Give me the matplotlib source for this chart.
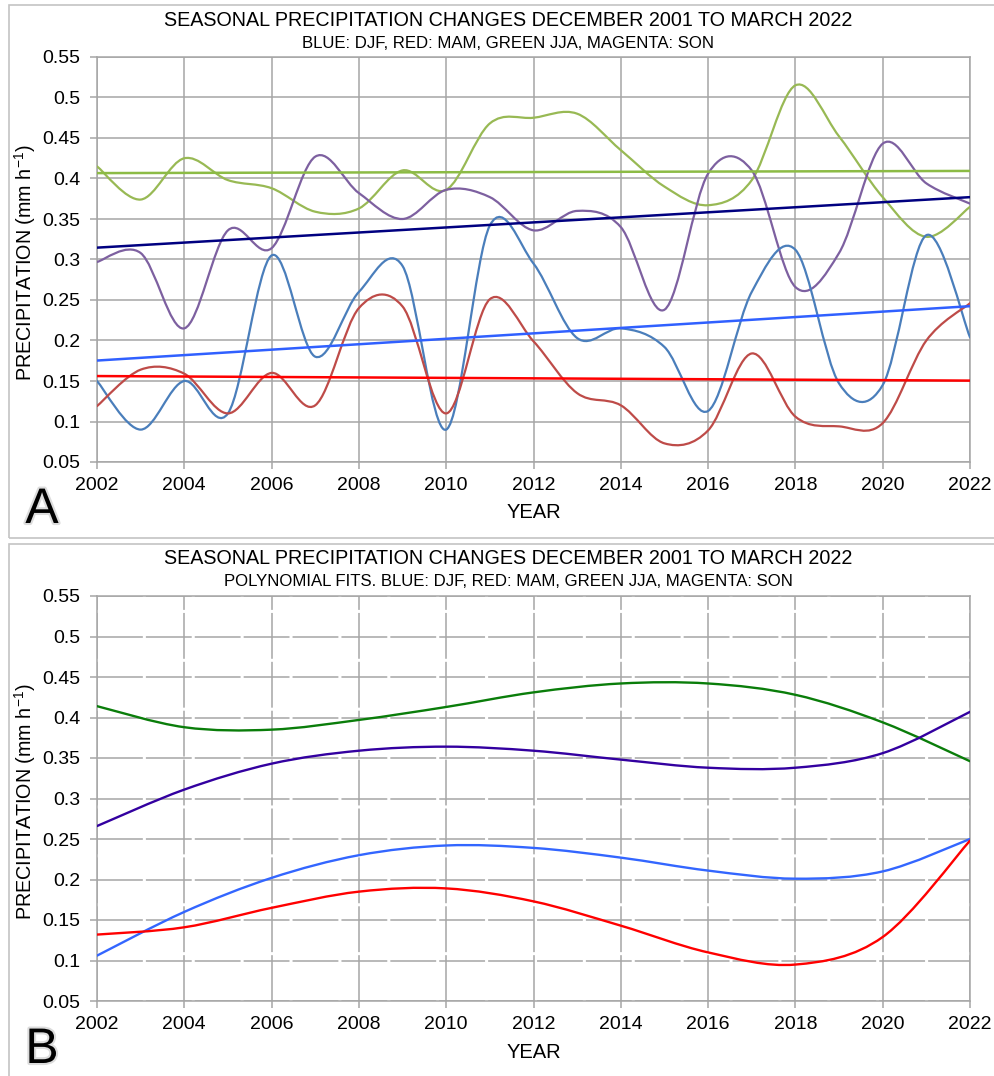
import matplotlib

matplotlib.use("Agg")
import matplotlib.patheffects as pe
import matplotlib.pyplot as plt
import numpy as np
from matplotlib.patches import PathPatch, Rectangle
from matplotlib.path import Path

plt.rcParams["font.family"] = ["Liberation Sans", "DejaVu Sans"]
plt.rcParams["mathtext.fontset"] = "custom"
plt.rcParams["mathtext.rm"] = "Liberation Sans"

# yearly seasonal means, panel A
years = list(range(2002, 2023))
djf = [0.150, 0.090, 0.150, 0.110, 0.305, 0.180, 0.260, 0.292, 0.090, 0.342, 0.295,
       0.203, 0.215, 0.192, 0.113, 0.260, 0.312, 0.147, 0.145, 0.330, 0.204]
mam = [0.119, 0.164, 0.159, 0.110, 0.160, 0.120, 0.240, 0.242, 0.110, 0.251, 0.199,
       0.135, 0.120, 0.073, 0.089, 0.184, 0.106, 0.094, 0.098, 0.200, 0.246]
jja = [0.415, 0.374, 0.425, 0.398, 0.388, 0.359, 0.363, 0.410, 0.386, 0.468, 0.475,
       0.480, 0.435, 0.390, 0.367, 0.398, 0.515, 0.452, 0.377, 0.328, 0.365]
son = [0.297, 0.308, 0.215, 0.336, 0.314, 0.427, 0.382, 0.350, 0.386, 0.377, 0.336,
       0.360, 0.340, 0.238, 0.406, 0.410, 0.266, 0.308, 0.443, 0.394, 0.369]

# polynomial fit curves, panel B (read every two years)
fit_years = list(range(2002, 2023, 2))
djf_fit = [0.106, 0.160, 0.202, 0.230, 0.242, 0.239, 0.227, 0.211, 0.201, 0.210, 0.250]
mam_fit = [0.132, 0.141, 0.165, 0.185, 0.189, 0.173, 0.143, 0.110, 0.095, 0.129, 0.248]
jja_fit = [0.414, 0.388, 0.385, 0.397, 0.413, 0.431, 0.442, 0.442, 0.428, 0.394, 0.346]
son_fit = [0.266, 0.311, 0.343, 0.359, 0.364, 0.359, 0.348, 0.338, 0.338, 0.356, 0.407]

x_ticks = list(range(2002, 2023, 2))
y_ticks = [0.05, 0.10, 0.15, 0.20, 0.25, 0.30, 0.35, 0.40, 0.45, 0.50, 0.55]
y_tick_labels = ["0.05", "0.1", "0.15", "0.2", "0.25", "0.3", "0.35", "0.4", "0.45", "0.5", "0.55"]

TITLE = "SEASONAL PRECIPITATION CHANGES DECEMBER 2001 TO MARCH 2022"
SUB_A = "BLUE: DJF, RED: MAM, GREEN JJA, MAGENTA: SON"
SUB_B = "POLYNOMIAL FITS. BLUE: DJF, RED: MAM, GREEN JJA, MAGENTA: SON"
YLABEL = r"PRECIPITATION (mm h$^{\mathregular{-1}}$)"

W, H = 995, 1076
GRID = "#a6a6a6"


def smooth_path(x, y):
    # Catmull-Rom style bezier through the points, like a spreadsheet "smoothed line"
    pts = np.column_stack([np.asarray(x, float), np.asarray(y, float)])
    n = len(pts)
    verts = [pts[0]]
    codes = [Path.MOVETO]
    for i in range(n - 1):
        p0 = pts[max(i - 1, 0)]
        p1 = pts[i]
        p2 = pts[i + 1]
        p3 = pts[min(i + 2, n - 1)]
        verts += [p1 + (p2 - p0) / 6, p2 - (p3 - p1) / 6, p2]
        codes += [Path.CURVE4] * 3
    return Path(verts, codes)


def draw_smooth(ax, x, y, color, lw=1.6):
    ax.add_patch(PathPatch(smooth_path(x, y), facecolor="none", edgecolor=color,
                           lw=lw, zorder=3, capstyle="round", joinstyle="round"))


def setup_axes(ax, dashed_grid=False):
    ax.set_xlim(2002, 2022)
    ax.set_ylim(0.05, 0.55)
    ax.set_xticks(x_ticks)
    ax.set_yticks(y_ticks)
    ax.set_yticklabels(y_tick_labels)
    ax.tick_params(labelsize=14, length=5, width=1.1, color=GRID, direction="out")
    ax.tick_params(axis="x", pad=6)
    ax.tick_params(axis="y", pad=7)
    style = (0, (30, 2)) if dashed_grid else "-"
    ax.grid(True, color=GRID, lw=1.1, linestyle=style, zorder=0)
    ax.set_axisbelow(True)
    for sp in ax.spines.values():
        sp.set_color(GRID)
        sp.set_linewidth(1.1)


def px(x, y):
    return x / W, 1 - y / H


fig = plt.figure(figsize=(W / 100, H / 100), dpi=100)

# panel frames
for top, bottom in [(5, 538), (544, 1090)]:
    x0, y0 = px(9, bottom)
    x1, y1 = px(1005, top)
    fig.add_artist(Rectangle((x0, y0), x1 - x0, y1 - y0, transform=fig.transFigure,
                             facecolor="none", edgecolor="#c4c4c4", lw=1.2))

ax_a = fig.add_axes([97 / W, 1 - 462 / H, 873 / W, 405 / H])
ax_b = fig.add_axes([97 / W, 1 - 1001 / H, 873 / W, 405 / H])
setup_axes(ax_a)
setup_axes(ax_b, dashed_grid=True)

# panel A: smoothed yearly series and linear trends
series_a = [(jja, "#98b954", "#8cbb45"), (son, "#7d60a0", "#000080"),
            (djf, "#4a7ebb", "#3060ff"), (mam, "#be4b48", "#ff0000")]
yr = np.array(years, float)
for vals, col, tcol in series_a:
    draw_smooth(ax_a, years, vals, col)
for vals, col, tcol in series_a:
    slope, icpt = np.polyfit(yr, vals, 1)
    ax_a.plot([yr[0], yr[-1]], [slope * yr[0] + icpt, slope * yr[-1] + icpt],
              color=tcol, lw=1.8, zorder=4)

# panel B: polynomial fits
for vals, col in [(jja_fit, "#0a7d0a"), (son_fit, "#3300a0"),
                  (djf_fit, "#3366ff"), (mam_fit, "#ff0000")]:
    draw_smooth(ax_b, fit_years, vals, col, lw=1.7)

# text
shadow = [pe.withStroke(linewidth=3, foreground="#dcdcdc")]
for ty, sy, yy, lab_y, letter_y, letter, sub in [
        (21, 43, 513, 263, 510, "A", SUB_A), (559, 581, 1053, 802, 1050, "B", SUB_B)]:
    fig.text(*px(508, ty), TITLE, fontsize=14.2, ha="center", va="center")
    fig.text(*px(508, sy), sub, fontsize=12.1, ha="center", va="center")
    fig.text(*px(533.5, yy), "YEAR", fontsize=14.5, ha="center", va="center")
    fig.text(*px(25, lab_y), YLABEL, fontsize=14.2, rotation=90, ha="center", va="center")
    fig.text(*px(42, letter_y), letter, fontsize=36, ha="center", va="center",
             path_effects=shadow)

fig.savefig("out.png", dpi=100)
